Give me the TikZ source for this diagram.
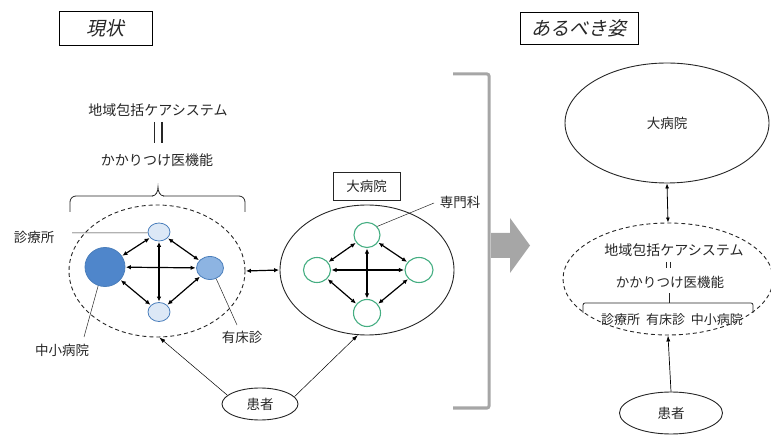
\documentclass[tikz,border=0pt]{standalone}
\usepackage{fontspec}
\newfontfamily\jp{Noto Sans CJK JP}
\newfontfamily\jpit[FakeSlant=0.22]{Noto Sans CJK JP}
\usetikzlibrary{shapes.geometric,arrows.meta}
\definecolor{txt}{HTML}{262626}
\definecolor{bdark}{HTML}{4F86CB}
\definecolor{bmid}{HTML}{8DB4E2}
\definecolor{blight}{HTML}{DCE8F6}
\definecolor{bline}{HTML}{4A7EBB}
\definecolor{grn}{HTML}{45AE82}
\definecolor{gry}{HTML}{A6A6A6}
\begin{document}
\begin{tikzpicture}[x=1pt,y=-1pt,
  lbl/.style={font=\jp\fontsize{13.5}{14}\selectfont, text=txt, inner sep=0},
  titlebox/.style={draw, line width=0.9pt, font=\jpit\fontsize{19}{20}\selectfont, text=txt, inner sep=0},
  circ/.style={ellipse, inner sep=0, line width=0.8pt},
  bcirc/.style={circ, draw=bline},
  gcirc/.style={circ, draw=grn, fill=white, line width=1.1pt},
  biarr/.style={{Latex[length=5pt,width=4.5pt]}-{Latex[length=5pt,width=4.5pt]}, line width=1.2pt, shorten <=0.5pt, shorten >=0.5pt},
  thinarr/.style={-{Latex[length=6pt,width=4pt]}, line width=0.5pt},
  leader/.style={line width=0.5pt, draw=txt}
]
\useasboundingbox (0,0) rectangle (771,435);

% titles
\node[titlebox, minimum width=93pt, minimum height=34pt] (tnow) at (105.5,28) {現状};
\node[titlebox, minimum width=118pt, minimum height=32pt] (tideal) at (579,28) {あるべき姿};

% left header
\node[lbl, font=\jp\fontsize{14}{15}\selectfont] (lsys) at (158,110) {地域包括ケアシステム};
\node[lbl, font=\jp\fontsize{14}{15}\selectfont] (lkak) at (157,160) {かかりつけ医機能};
\coordinate (e1a) at (154.5,122);
\coordinate (e1b) at (154.5,143);
\coordinate (e2a) at (162,122);
\coordinate (e2b) at (162,143);
\draw[line width=1.1pt, txt] (e1a) -- (e1b);
\draw[line width=1.1pt, txt] (e2a) -- (e2b);
\coordinate (brL) at (70,212);
\coordinate (brR) at (245,212);
\coordinate (brT) at (158,187);
\draw[line width=0.8pt, txt, rounded corners=6pt] (brL) -- (70,196) -- (153,196);
\draw[line width=0.8pt, txt] (152,196) to[out=0,in=-90] (brT) to[out=-90,in=180] (164,196);
\draw[line width=0.8pt, txt, rounded corners=6pt] (163,196) -- (245,196) -- (brR);

% left group
\node[ellipse, draw=txt, dashed, line width=0.9pt, dash pattern=on 4pt off 3pt, minimum width=176pt, minimum height=132pt, inner sep=0] (lgrp) at (157,271) {};
\node[bcirc, fill=blight, minimum width=22pt, minimum height=18pt] (ltop) at (159,232) {};
\node[bcirc, fill=bdark, minimum width=40pt, minimum height=39pt] (lleft) at (105,267) {};
\node[bcirc, fill=bmid, minimum width=27pt, minimum height=23pt] (lright) at (210,268) {};
\node[bcirc, fill=blight, minimum width=22pt, minimum height=19pt] (lbot) at (159,312) {};
\draw[biarr] (lleft) -- (ltop);
\draw[biarr] (ltop) -- (lright);
\draw[biarr] (lright) -- (lbot);
\draw[biarr] (lbot) -- (lleft);
\draw[biarr] (lleft) -- (lright);
\draw[biarr] (ltop) -- (lbot);

% left labels
\node[lbl] (lsho) at (34,237) {診療所};
\node[lbl] (lchu) at (62,350) {中小病院};
\node[lbl] (lyu) at (242,337) {有床診};
\coordinate (c1) at (72,233);
\draw[leader] (c1) -- (ltop.185);
\coordinate (c2) at (84,337);
\draw[leader] (lleft.-110) -- (c2);
\coordinate (c3) at (237,325);
\draw[leader] (lright.-60) -- (c3);

% link between groups
\node[ellipse, draw=txt, line width=0.9pt, minimum width=174pt, minimum height=130pt, inner sep=0] (rgrp) at (367,270) {};
\draw[biarr] (lgrp.east) -- (rgrp.west);

% big hospital
\node[draw=txt, line width=0.8pt, lbl, minimum width=67pt, minimum height=28pt] (hbox) at (366.5,186) {大病院};
\node[gcirc, minimum width=26pt, minimum height=25pt] (gtop) at (367,235) {};
\node[gcirc, minimum width=27pt, minimum height=25pt] (gleft) at (317,270) {};
\node[gcirc, minimum width=28pt, minimum height=25pt] (gright) at (419,270) {};
\node[gcirc, minimum width=27pt, minimum height=27pt] (gbot) at (367,313) {};
\draw[biarr] (gleft) -- (gtop);
\draw[biarr] (gtop) -- (gright);
\draw[biarr] (gright) -- (gbot);
\draw[biarr] (gbot) -- (gleft);
\draw[biarr] (gleft) -- (gright);
\draw[biarr] (gtop) -- (gbot);
\node[lbl] (lsen) at (460,202) {専門科};
\coordinate (c4) at (434,203);
\draw[leader] (gtop.40) -- (c4);

% patient left
\node[ellipse, draw=txt, line width=0.9pt, lbl, minimum width=76pt, minimum height=32pt] (lpat) at (260,404) {患者};
\draw[thinarr] (lpat.165) -- (lgrp.-88);
\draw[thinarr] (lpat.12) -- (rgrp.-98);

% gray bracket and arrow
\draw[gry, line width=3pt, rounded corners=2pt] (453,74) -- (489,74) -- (489,408) -- (453,408);
\fill[gry] (491,233) -- (510,233) -- (510,218) -- (530,245.5) -- (510,273) -- (510,258) -- (491,258) -- cycle;

% right side
\node[ellipse, draw=txt, line width=0.9pt, lbl, minimum width=204pt, minimum height=120pt] (rbig) at (667,123) {大病院};
\node[ellipse, draw=txt, dashed, line width=0.9pt, dash pattern=on 4pt off 3pt, minimum width=210pt, minimum height=112pt, inner sep=0] (rgrp2) at (668,279) {};
\draw[{Latex[length=5pt,width=4pt]}-{Latex[length=5pt,width=4pt]}, line width=0.8pt] (rbig.south) -- (rgrp2.north);
\node[lbl, font=\jp\fontsize{14}{15}\selectfont] (rsys) at (674,250) {地域包括ケアシステム};
\node[lbl] (rkak) at (670,282) {かかりつけ医機能};
\coordinate (f1a) at (666,262);
\coordinate (f1b) at (666,268);
\coordinate (f2a) at (670,262);
\coordinate (f2b) at (670,268);
\draw[line width=1pt, txt] (f1a) -- (f1b);
\draw[line width=1pt, txt] (f2a) -- (f2b);
\coordinate (b1) at (583,313);
\coordinate (b2) at (753,313);
\draw[line width=0.8pt, txt, rounded corners=2pt] (b1) -- (583,303) -- (753,303) -- (b2);
\draw[line width=0.8pt, txt] (669,303) -- (669,293);
\node[lbl, font=\jp\fontsize{13}{14}\selectfont] (rlab) at (672,320) {診療所\ \ 有床診\ \ 中小病院};
\node[ellipse, draw=txt, line width=0.9pt, lbl, minimum width=103pt, minimum height=42pt] (rpat) at (671,413) {患者};
\draw[thinarr, line width=0.7pt] (rpat.north) -- (rgrp2.south);
\end{tikzpicture}
\end{document}
